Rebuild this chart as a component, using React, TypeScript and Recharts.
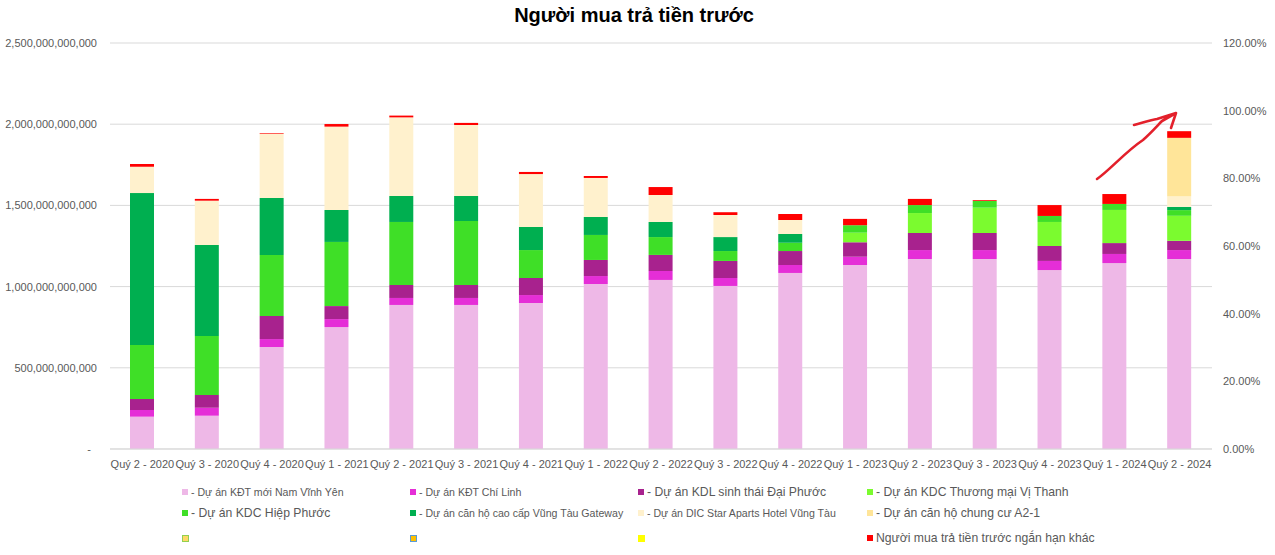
import React from "react";
import { BarChart, Bar, Line, XAxis, YAxis, CartesianGrid } from "recharts";

// values in billions of VND (tỷ đồng)
const quarters = [
  "Quý 2 - 2020", "Quý 3 - 2020", "Quý 4 - 2020", "Quý 1 - 2021", "Quý 2 - 2021",
  "Quý 3 - 2021", "Quý 4 - 2021", "Quý 1 - 2022", "Quý 2 - 2022", "Quý 3 - 2022",
  "Quý 4 - 2022", "Quý 1 - 2023", "Quý 2 - 2023", "Quý 3 - 2023", "Quý 4 - 2023",
  "Quý 1 - 2024", "Quý 2 - 2024",
];

const namVinhYen = [199, 205, 628, 751, 887, 887, 899, 1016, 1041, 1004, 1084, 1133, 1170, 1170, 1102, 1145, 1170];
const chiLinh = [41, 49, 49, 49, 43, 43, 49, 49, 55, 49, 49, 51, 55, 55, 56, 56, 55];
const daiPhuoc = [68, 79, 142, 80, 80, 80, 105, 99, 99, 105, 86, 89, 105, 105, 92, 67, 57];
const viThanh = [0, 0, 0, 0, 0, 0, 0, 0, 0, 0, 0, 59, 123, 156, 148, 204, 154];
const hiepPhuoc = [332, 363, 376, 395, 388, 394, 172, 154, 110, 61, 51, 46, 49, 41, 37, 37, 35];
const vungTauGateway = [936, 560, 351, 197, 160, 154, 142, 111, 93, 86, 54, 0, 0, 0, 0, 0, 20];
const dicStar = [162, 273, 396, 513, 484, 437, 326, 240, 166, 136, 86, 0, 0, 0, 0, 0, 66];
const chungCuA21 = [0, 0, 0, 0, 0, 0, 0, 0, 0, 0, 0, 0, 0, 0, 0, 0, 359];
const nganHanKhac = [17, 11, 4, 16, 11, 13, 13, 12, 49, 17, 37, 39, 38, 5, 67, 61, 41];

const leftTicks = [0, 500e9, 1000e9, 1500e9, 2000e9, 2500e9];
const rightTicks = [0, 0.2, 0.4, 0.6, 0.8, 1.0, 1.2];

const BN = 1e9;

const data = quarters.map((q, i) => ({
  q,
  namVinhYen: namVinhYen[i] * BN,
  chiLinh: chiLinh[i] * BN,
  daiPhuoc: daiPhuoc[i] * BN,
  viThanh: viThanh[i] * BN,
  hiepPhuoc: hiepPhuoc[i] * BN,
  vungTauGateway: vungTauGateway[i] * BN,
  dicStar: dicStar[i] * BN,
  chungCuA21: chungCuA21[i] * BN,
  nganHanKhac: nganHanKhac[i] * BN,
  empty1: null,
  empty2: null,
  empty3: null,
}));

const bars = [
  { key: "namVinhYen", name: "- Dự án KĐT mới Nam Vĩnh Yên", color: "#EEB8E7" },
  { key: "chiLinh", name: "- Dự án KĐT Chí Linh", color: "#E52ED7" },
  { key: "daiPhuoc", name: "- Dự án KDL sinh thái Đại Phước", color: "#A8228E" },
  { key: "viThanh", name: "- Dự án KDC Thương mại Vị Thanh", color: "#7BFB2F" },
  { key: "hiepPhuoc", name: "- Dự án KDC Hiệp Phước", color: "#3FDF27" },
  { key: "vungTauGateway", name: "- Dự án căn hộ cao cấp Vũng Tàu Gateway", color: "#00AF50" },
  { key: "dicStar", name: "- Dự án DIC Star Aparts Hotel Vũng Tàu", color: "#FFF1CD" },
  { key: "chungCuA21", name: "- Dự án căn hộ chung cư A2-1", color: "#FFE599" },
  { key: "nganHanKhac", name: "Người mua trả tiền trước ngắn hạn khác", color: "#FF0000" },
];

const empties = [
  { key: "empty1", fill: "#FFD966", border: "#92D050" },
  { key: "empty2", fill: "#FFC000", border: "#5B9BD5" },
  { key: "empty3", fill: "#FFFF00", border: "#FFFF00" },
];

const axisText = "#595959";
const font = '"Liberation Sans", Arial, sans-serif';

const fmtMoney = (v: number) => v.toLocaleString("en-US");

function LeftTick({ x, y, payload }: any) {
  const v = payload.value;
  return (
    <text x={v === 0 ? x - 6 : x} y={y} dy="0.355em" textAnchor="end" fill={axisText} fontSize={11} fontFamily={font}>
      {v === 0 ? "-" : fmtMoney(v)}
    </text>
  );
}

type LegendItem = { marker: string; border?: string; label: string; size: number };

const SMALL = 10.6;
const LARGE = 12.2;

const legendRows: LegendItem[][] = [
  [
    { marker: bars[0].color, label: bars[0].name, size: SMALL },
    { marker: bars[1].color, label: bars[1].name, size: SMALL },
    { marker: bars[2].color, label: bars[2].name, size: LARGE },
    { marker: bars[3].color, label: bars[3].name, size: LARGE },
  ],
  [
    { marker: bars[4].color, label: bars[4].name, size: LARGE },
    { marker: bars[5].color, label: bars[5].name, size: SMALL },
    { marker: bars[6].color, label: bars[6].name, size: SMALL },
    { marker: bars[7].color, label: bars[7].name, size: LARGE },
  ],
  [
    { marker: empties[0].fill, border: empties[0].border, label: "", size: SMALL },
    { marker: empties[1].fill, border: empties[1].border, label: "", size: SMALL },
    { marker: empties[2].fill, border: empties[2].border, label: "", size: SMALL },
    { marker: bars[8].color, label: bars[8].name, size: LARGE },
  ],
];

const legendCols = [182, 410, 638, 867];
const legendRowY = [492, 513, 538];

function ChartLegend() {
  return (
    <>
      {legendRows.map((row, r) =>
        row.map((item, c) => (
          <div
            key={`${r}-${c}`}
            style={{
              position: "absolute",
              left: legendCols[c],
              top: legendRowY[r] - 9,
              height: 18,
              display: "flex",
              alignItems: "center",
              whiteSpace: "nowrap",
              fontFamily: font,
              fontSize: item.size,
              color: axisText,
            }}
          >
            <span
              style={{
                display: "inline-block",
                width: item.border ? 5 : 6,
                height: item.border ? 5 : 6,
                background: item.marker,
                border: item.border ? `1px solid ${item.border}` : "none",
                marginRight: 3,
              }}
            />
            {item.label}
          </div>
        ))
      )}
    </>
  );
}

export default function App() {
  return (
    <div style={{ position: "absolute", left: 0, top: 0, width: 1275, height: 555, background: "#fff", overflow: "hidden" }}>
      <div
        style={{
          position: "absolute",
          left: 0,
          top: 4,
          width: 1268,
          textAlign: "center",
          fontFamily: font,
          fontWeight: "bold",
          fontSize: 20,
          color: "#000",
        }}
      >
        Người mua trả tiền trước
      </div>
      <BarChart width={1275} height={555} data={data} margin={{ top: 43, right: 0, bottom: 0, left: 0 }} barSize={24}>
        <CartesianGrid yAxisId="left" vertical={false} stroke="#D9D9D9" />
        <XAxis
          dataKey="q"
          height={106}
          interval={0}
          tickLine={false}
          tickSize={0}
          tickMargin={11}
          axisLine={{ stroke: "#D9D9D9" }}
          tick={{ fontSize: 11, fill: axisText, fontFamily: font }}
        />
        <YAxis
          yAxisId="left"
          width={110}
          domain={[0, 2500e9]}
          ticks={leftTicks}
          axisLine={false}
          tickLine={false}
          tickSize={0}
          tickMargin={13}
          tick={<LeftTick />}
        />
        <YAxis
          yAxisId="right"
          orientation="right"
          type="number"
          width={63}
          domain={[0, 1.2]}
          allowDataOverflow
          ticks={rightTicks}
          axisLine={false}
          tickLine={false}
          tickSize={0}
          tickMargin={11}
          tickFormatter={(v: number) => `${(v * 100).toFixed(2)}%`}
          tick={{ fontSize: 11, fill: axisText, fontFamily: font }}
        />
        {bars.map((b) => (
          <Bar
            key={b.key}
            yAxisId="left"
            dataKey={b.key}
            name={b.name}
            stackId="a"
            fill={b.color}
            isAnimationActive={false}
          />
        ))}
        {empties.map((e) => (
          <Line
            key={e.key}
            yAxisId="right"
            dataKey={e.key}
            stroke={e.fill}
            dot={false}
            connectNulls={false}
            isAnimationActive={false}
          />
        ))}
      </BarChart>
      <ChartLegend />
      {/* hand-drawn arrow annotation over the last quarters */}
      <svg width={1275} height={555} style={{ position: "absolute", left: 0, top: 0, pointerEvents: "none" }}>
        <path
          d="M1097 179 C1110 170 1125 152 1143 140 C1152 132 1158 125 1162 121 L1176 113 M1134 125 C1142 123 1150 120 1157 119 L1176 113 L1171 128"
          fill="none"
          stroke="#E3202B"
          strokeWidth={2.6}
          strokeLinecap="round"
          strokeLinejoin="round"
        />
      </svg>
    </div>
  );
}
